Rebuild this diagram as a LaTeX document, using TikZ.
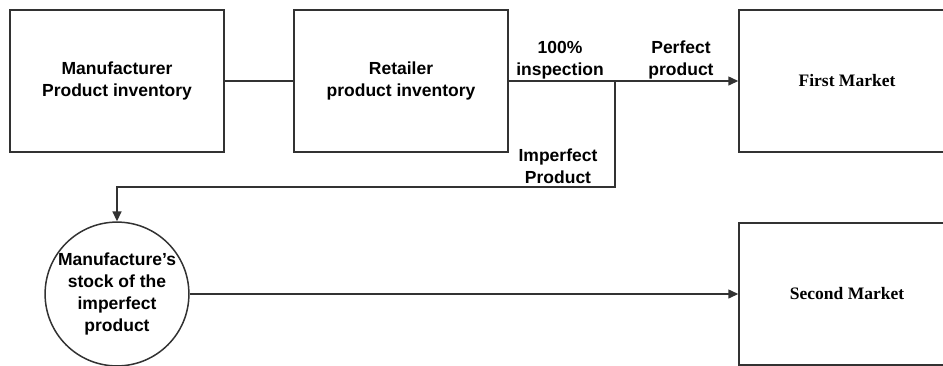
\documentclass[tikz,border=0pt]{standalone}
\usepackage{fontspec}
\setmainfont{Liberation Sans}
\newfontfamily\marketfont{Liberation Serif}
\usetikzlibrary{arrows.meta}
\definecolor{linegray}{RGB}{50,50,50}
\tikzset{
  every node/.style={inner sep=0pt, font=\bfseries\fontsize{17.5}{22}\selectfont, align=center},
  box/.style={draw=linegray, line width=1.5pt, minimum width=214pt, minimum height=142pt},
  marketbox/.style={box, minimum width=216pt, font=\marketfont\bfseries\fontsize{17.5}{22}\selectfont},
  stockcircle/.style={draw=linegray, line width=1.5pt, circle, minimum size=143pt},
  link/.style={draw=linegray, line width=1.5pt},
  flow/.style={link, -{Triangle[length=10pt,width=9pt]}},
  tag/.style={fill=none}
}
\begin{document}
\begin{tikzpicture}[x=1pt, y=-1pt]
  \useasboundingbox (0,0) rectangle (943,365);

  % inventories and markets
  \node[box] (mpi) at (117,81) {Manufacturer\\Product inventory};
  \node[box] (rpi) at (401,81) {Retailer\\product inventory};
  \node[marketbox] (fm) at (847,81) {First Market};
  \node[marketbox] (sm) at (847,294) {Second Market};
  \node[stockcircle] (stock) at (117,294) {Manufacture's\\stock of the\\imperfect\\product};

  % inspection split point and return path
  \coordinate (split) at (615,81);
  \coordinate (turn) at (615,187);

  % connectors
  \draw[link] (mpi.east) -- (rpi.west);
  \draw[link] (rpi.east) -- (split);
  \draw[flow] (split) -- (fm.west);
  \draw[flow] (split) -- (turn) -| (stock.north);
  \draw[flow] (stock.east) -- (sm.west);

  % connector labels
  \node[tag] (insp) at (560,60) {100\%\\inspection};
  \node[tag] (perf) at (681,60) {Perfect\\product};
  \node[tag] (imperf) at (558,166) {Imperfect\\Product};
\end{tikzpicture}
\end{document}
